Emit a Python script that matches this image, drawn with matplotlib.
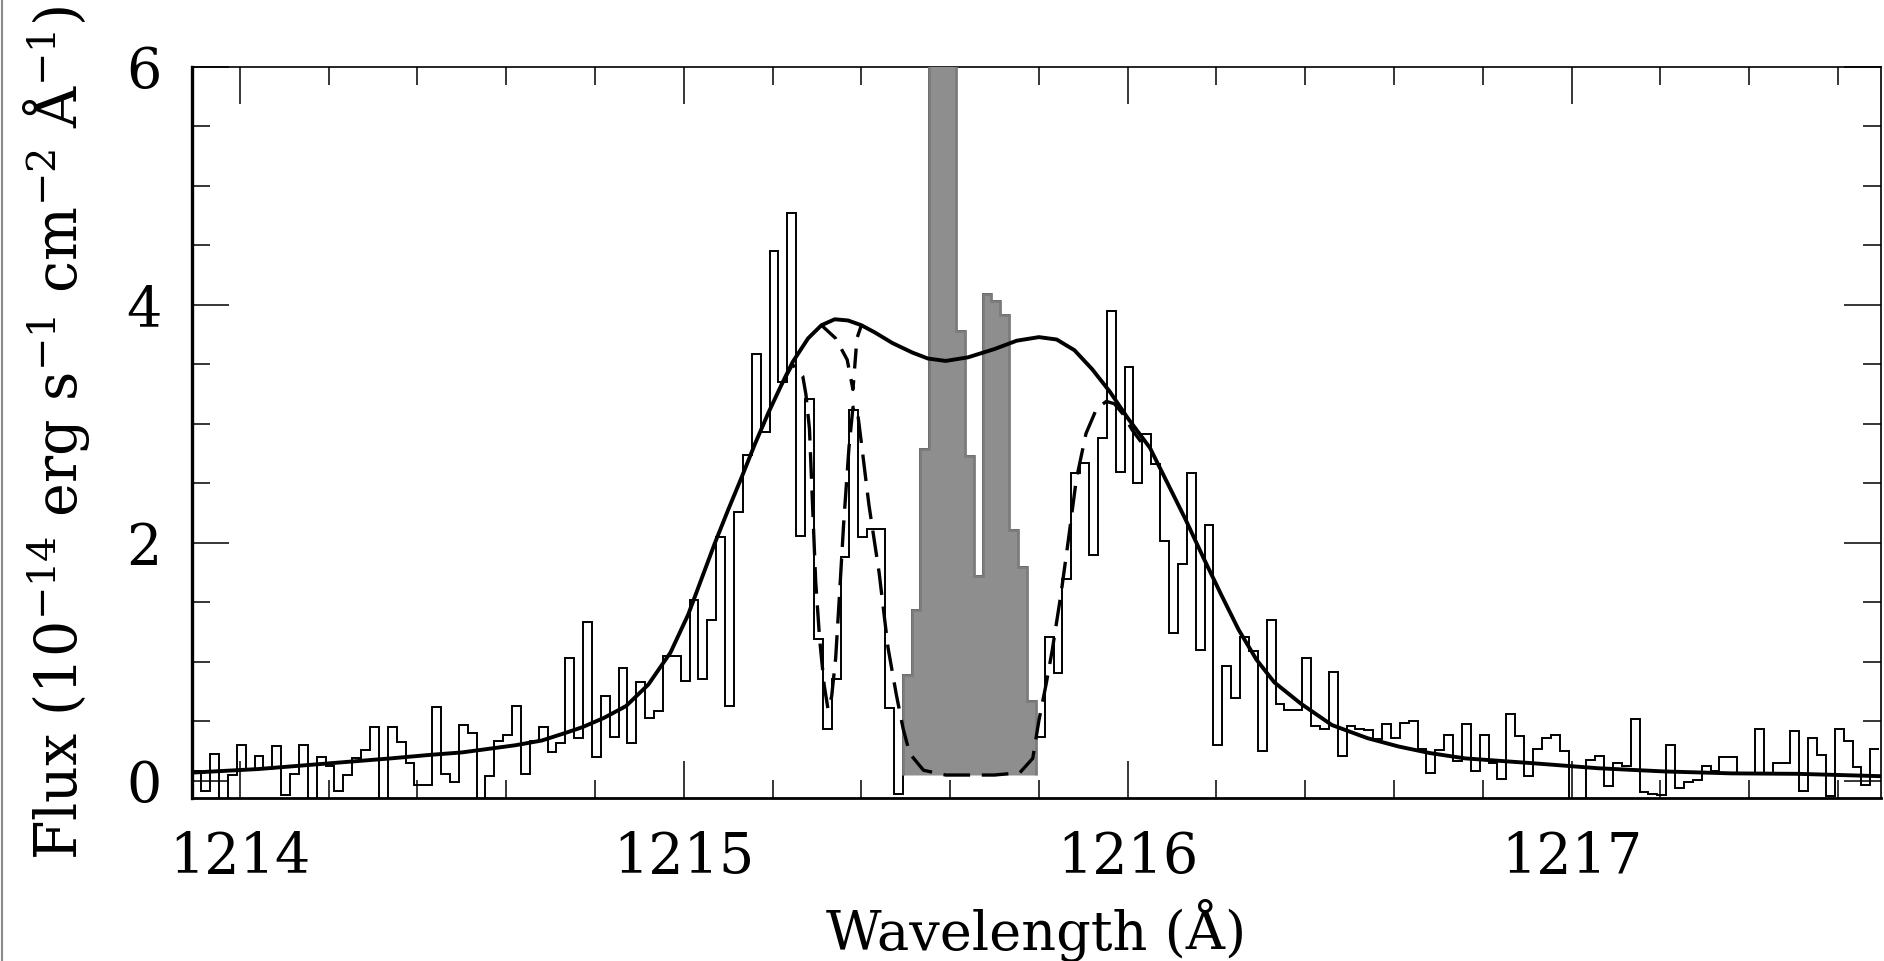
import numpy as np
import matplotlib
matplotlib.use('Agg')
import matplotlib.pyplot as plt
from matplotlib.ticker import MultipleLocator
from matplotlib.lines import Line2D

# ---------------- data ----------------
wave_start = 1213.893   # first bin edge (Angstrom)
bin_width = 0.02        # Angstrom

flux = [
    0.08, -0.08, 0.23, -0.25, 0.05, 0.30, 0.10, 0.21, 0.10, 0.29,
    -0.12, 0.06, 0.30, -0.25, 0.20, 0.13, -0.08, 0.05, 0.19, 0.26,
    0.45, -0.25, 0.45, 0.33, 0.15, -0.03, -0.03, 0.62, 0.06, -0.01,
    0.47, 0.40, -0.25, 0.04, 0.34, 0.39, 0.63, 0.06, 0.34, 0.45,
    0.24, 0.32, 1.03, 0.36, 1.34, 0.20, 0.71, 0.37, 0.95, 0.32,
    0.83, 0.53, 0.59, 1.05, 1.05, 0.84, 1.52, 0.86, 1.35, 2.05,
    0.63, 2.26, 2.74, 3.59, 2.93, 4.45, 3.35, 4.77, 2.06, 3.21,
    1.19, 0.44, 0.86, 1.88, 3.12, 2.05, 2.12, 2.12, 0.61, -0.11,
    0.89, 1.44, 2.79, 9.00, 9.00, 9.00, 3.78, 2.73, 1.72, 4.09,
    4.03, 3.92, 2.11, 1.80, 0.67, 0.37, 1.21, 0.91, 1.70, 2.59,
    2.67, 1.90, 2.88, 3.95, 2.60, 3.48, 2.50, 2.92, 2.66, 2.02,
    1.24, 1.82, 2.59, 1.10, 2.15, 0.30, 0.97, 0.70, 1.21, 1.09,
    0.25, 1.35, 0.65, 0.60, 0.60, 1.03, 0.46, 0.44, 0.92, 0.21,
    0.46, 0.44, 0.43, 0.35, 0.48, 0.36, 0.49, 0.50, 0.27, 0.07,
    0.26, 0.39, 0.17, 0.48, 0.08, 0.39, 0.15, 0.02, 0.56, 0.38,
    0.04, 0.27, 0.36, 0.39, 0.25, -0.25, -0.25, 0.18, 0.21, -0.04,
    0.15, 0.13, 0.52, -0.09, -0.11, -0.12, 0.30, -0.06, -0.01, 0.01,
    0.13, 0.08, 0.20, 0.20, 0.07, 0.07, 0.44, 0.07, 0.15, 0.15,
    0.42, -0.08, 0.36, 0.22, -0.13, 0.44, 0.34, 0.12, -0.03, 0.27,
]

# geocoronal (shaded) bins
geo_first_bin = 80
geo_flux = [0.89, 1.44, 2.79, 9.00, 9.00, 9.00, 3.78, 2.73, 1.72, 4.09,
            4.03, 3.92, 2.11, 1.80, 0.67]
geo_floor = 0.05

# intrinsic model profile (solid)
model_wave = [1213.89, 1214.04, 1214.19, 1214.34, 1214.43, 1214.50, 1214.56,
              1214.62, 1214.68, 1214.73, 1214.77, 1214.82, 1214.87, 1214.92,
              1214.97, 1215.01, 1215.04, 1215.07, 1215.10, 1215.13, 1215.16,
              1215.19, 1215.22, 1215.245, 1215.28, 1215.31, 1215.34, 1215.37,
              1215.40, 1215.43, 1215.47, 1215.515, 1215.55, 1215.59, 1215.64,
              1215.70, 1215.75, 1215.80, 1215.84, 1215.88, 1215.92, 1215.96,
              1216.00, 1216.05, 1216.09, 1216.13, 1216.17, 1216.21, 1216.25,
              1216.29, 1216.33, 1216.39, 1216.46, 1216.54, 1216.61, 1216.68,
              1216.76, 1216.91, 1217.06, 1217.21, 1217.36, 1217.51, 1217.70]
model_flux = [0.07, 0.10, 0.145, 0.19, 0.22, 0.24, 0.27,
              0.30, 0.34, 0.40, 0.45, 0.53, 0.63, 0.81,
              1.08, 1.40, 1.70, 2.00, 2.28, 2.55, 2.83,
              3.09, 3.33, 3.52, 3.72, 3.83, 3.88, 3.87,
              3.83, 3.77, 3.68, 3.60, 3.55, 3.53, 3.56,
              3.63, 3.70, 3.73, 3.71, 3.62, 3.46, 3.27,
              3.05, 2.80, 2.50, 2.20, 1.88, 1.57, 1.27,
              1.02, 0.83, 0.65, 0.47, 0.36, 0.29, 0.235,
              0.19, 0.15, 0.107, 0.08, 0.064, 0.06, 0.04]

# absorbed model (dashed)
abs_wave = [1215.22, 1215.245, 1215.268, 1215.275, 1215.283, 1215.29, 1215.297,
            1215.306, 1215.316, 1215.325, 1215.333, 1215.342, 1215.35, 1215.36,
            1215.372, 1215.381, 1215.39, 1215.40, 1215.417, 1215.44, 1215.46,
            1215.479, 1215.494, 1215.509, 1215.54, 1215.59, 1215.70, 1215.757,
            1215.786, 1215.80, 1215.817, 1215.83, 1215.85, 1215.869, 1215.884,
            1215.906, 1215.93, 1215.952, 1215.97, 1215.99, 1216.01, 1216.03]
abs_flux = [3.33, 3.50, 3.40, 3.25, 2.96, 2.32, 1.68,
            1.19, 0.81, 0.60, 0.71, 1.03, 1.52, 2.16,
            2.80, 3.14, 3.14, 2.84, 2.32, 1.75, 1.12,
            0.72, 0.44, 0.23, 0.09, 0.05, 0.05, 0.07,
            0.19, 0.51, 0.83, 1.10, 1.58, 2.10, 2.53,
            2.92, 3.13, 3.19, 3.17, 3.08, 2.95, 2.85]

# second dashed branch near the blue peak
notch_wave = [1215.31, 1215.342, 1215.368, 1215.381, 1215.39, 1215.40]
notch_flux = [3.83, 3.72, 3.54, 3.29, 3.72, 3.83]

x_ticks = [1214, 1215, 1216, 1217]
y_ticks = [0, 2, 4, 6]

# ---------------- style ----------------
plt.rcParams['font.family'] = ['DejaVu Serif']
plt.rcParams['mathtext.fontset'] = 'dejavuserif'

W, H = 1884, 961
fig = plt.figure(figsize=(W / 100, H / 100), dpi=100)
ax = fig.add_axes([192 / W, 1 - 798 / H, (1881 - 192) / W, (798 - 67) / H])

edges = wave_start + bin_width * np.arange(len(flux) + 1)
geo_edges = edges[geo_first_bin:geo_first_bin + len(geo_flux) + 1]

ax.stairs(flux, edges, baseline=None, color='black', lw=1.4, zorder=2)
ax.stairs(geo_flux, geo_edges, baseline=geo_floor, fill=True,
          facecolor='#8e8e8e', edgecolor='#7c7c7c', lw=2.0, zorder=3)

ax.plot(model_wave, model_flux, color='black', lw=2.8, zorder=5,
        solid_joinstyle='round')
ax.plot(abs_wave, abs_flux, color='black', lw=2.4, zorder=5,
        dashes=(8, 3.5))
ax.plot(notch_wave, notch_flux, color='black', lw=2.4, zorder=5,
        dashes=(6, 3.5))

ax.set_xlim(1213.892, 1217.697)
ax.set_ylim(-0.143, 6.0)

ax.set_xticks(x_ticks)
ax.set_yticks(y_ticks)
ax.xaxis.set_minor_locator(MultipleLocator(0.2))
ax.yaxis.set_minor_locator(MultipleLocator(0.5))
ax.tick_params(which='both', direction='in', top=True, right=True,
               labelsize=40, width=1.1, color='black')
ax.tick_params(which='major', length=26.5)
ax.tick_params(which='minor', length=13)
ax.tick_params(axis='x', which='major', pad=23)
ax.tick_params(axis='y', which='major', pad=22)

for side, lw in (('left', 2.4), ('bottom', 2.0), ('top', 1.2), ('right', 1.2)):
    ax.spines[side].set_linewidth(lw)

ax.set_xlabel('Wavelength (Å)', fontsize=39)
ax.set_ylabel(r'Flux (10$^{-14}$ erg s$^{-1}$ cm$^{-2}$ Å$^{-1}$)', fontsize=41)
ax.xaxis.set_label_coords(0.5, -0.138)
ax.yaxis.set_label_coords(-0.059, 0.5)
ax.xaxis.label.set_va('top')

fig.add_artist(Line2D([0.0012, 0.0012], [0, 1], color='#8a8a8a', lw=1.5,
                      transform=fig.transFigure))

fig.savefig('out.png', dpi=100)
